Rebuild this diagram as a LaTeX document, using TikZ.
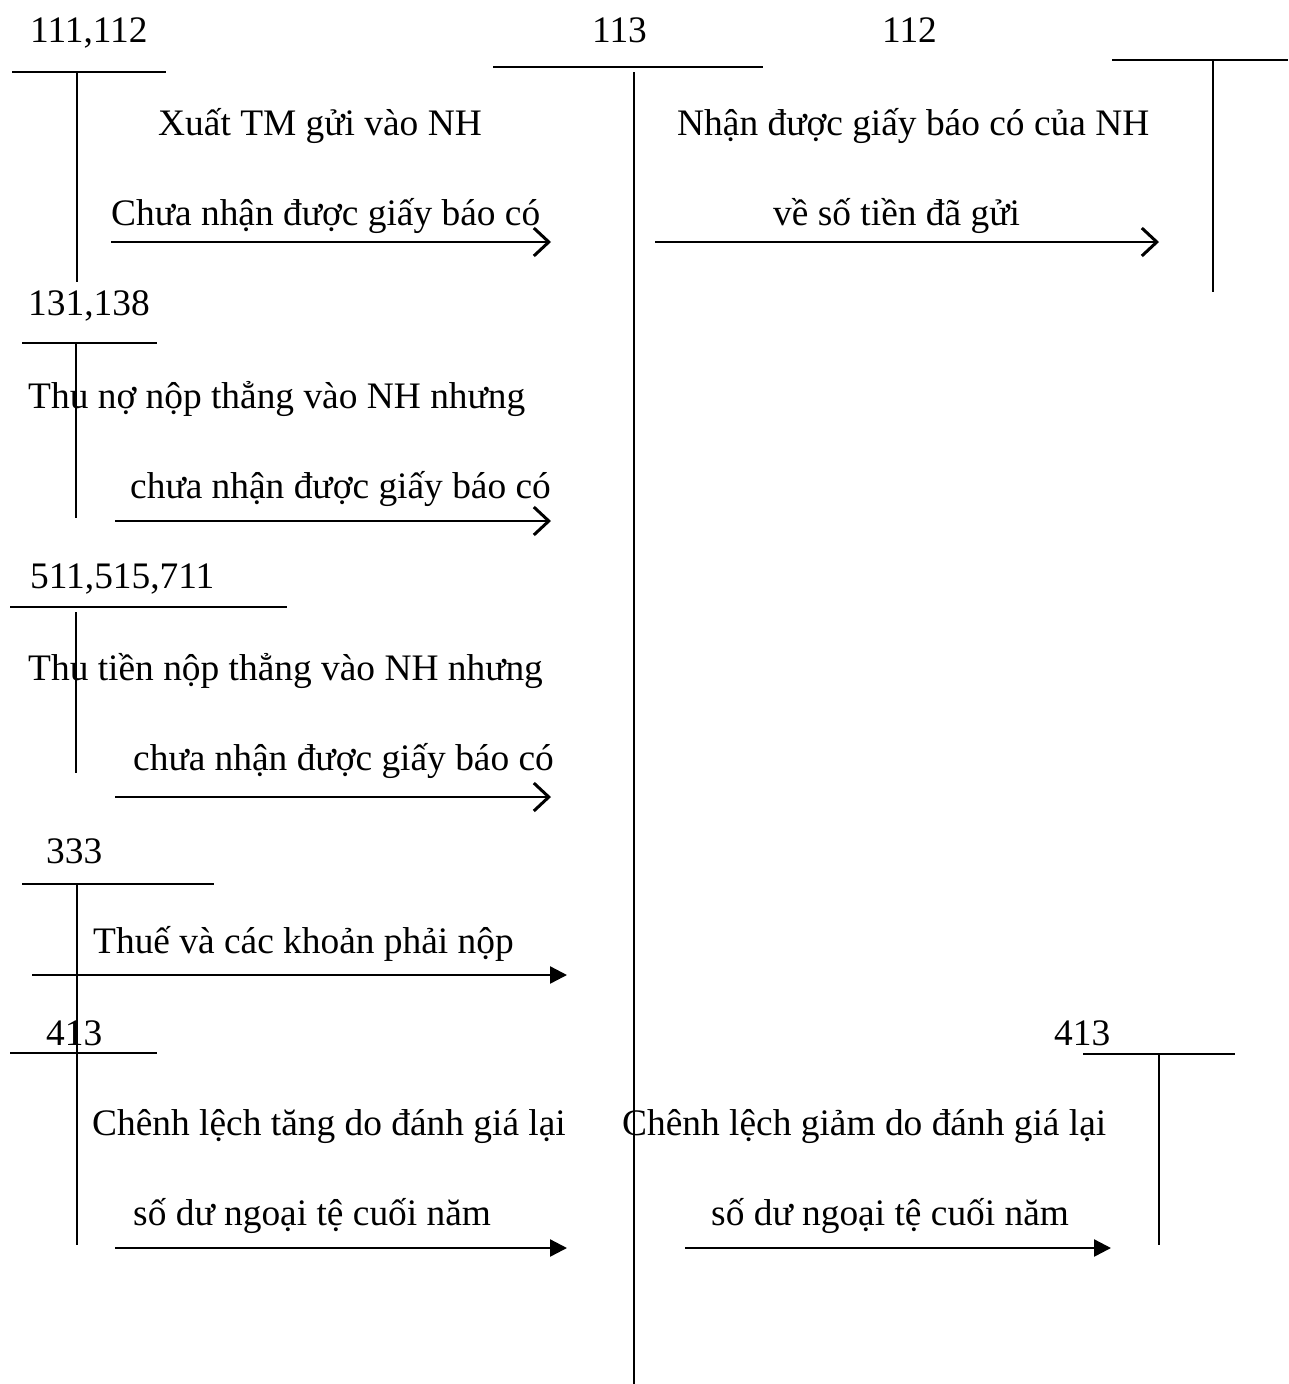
\documentclass[tikz,border=0pt]{standalone}
\usepackage{fontspec}
\setmainfont{Liberation Serif}
\usetikzlibrary{arrows.meta}
\begin{document}
\begin{tikzpicture}[x=1pt,y=-1pt,
  acct/.style={line width=2.2pt},
  lbl/.style={inner sep=0pt,anchor=base west,font=\fontsize{37.4}{44}\selectfont},
  openarr/.style={line width=2.2pt,-{Straight Barb[length=15pt,width=28pt,line width=3pt]}},
  fillarr/.style={line width=2.4pt,-{Triangle[length=17pt,width=17pt]}}]
\useasboundingbox (0,0) rectangle (1288,1384);
% ---- account 111,112
\node[lbl] (t1) at (30,42) {111,112};
\draw[acct] (12,72) -- (166,72);
\draw[acct] (77,72) -- (77,282);
% ---- account 113
\node[lbl] (t113) at (592,42) {113};
\draw[acct] (493,67) -- (763,67);
\draw[acct] (634,72) -- (634,1384);
% ---- account 112
\node[lbl] (t112) at (882,42) {112};
\draw[acct] (1112,60) -- (1288,60);
\draw[acct] (1213,60) -- (1213,292);
% ---- row 1 texts
\node[lbl] (a1) at (158,135) {Xuất TM gửi vào NH};
\node[lbl] (a2) at (111,225) {Chưa nhận được giấy báo có};
\coordinate (a1s) at (111,242);
\coordinate (a1e) at (551,242);
\draw[openarr] (a1s) -- (a1e);
\node[lbl] (b1) at (677,135) {Nhận được giấy báo có của NH};
\node[lbl] (b2) at (773,225) {về số tiền đã gửi};
\coordinate (b1s) at (655,242);
\coordinate (b1e) at (1159,242);
\draw[openarr] (b1s) -- (b1e);
% ---- account 131,138
\node[lbl] (t2) at (28,315) {131,138};
\draw[acct] (22,343) -- (157,343);
\draw[acct] (76,343) -- (76,518);
\node[lbl] (c1) at (28,408) {Thu nợ nộp thẳng vào NH nhưng};
\node[lbl] (c2) at (130,498) {chưa nhận được giấy báo có};
\coordinate (c1s) at (115,521);
\coordinate (c1e) at (551,521);
\draw[openarr] (c1s) -- (c1e);
% ---- account 511,515,711
\node[lbl] (t3) at (30,588) {511,515,711};
\draw[acct] (10,607) -- (287,607);
\draw[acct] (76,612) -- (76,773);
\node[lbl] (d1) at (28,680) {Thu tiền nộp thẳng vào NH nhưng};
\node[lbl] (d2) at (133,770) {chưa nhận được giấy báo có};
\coordinate (d1s) at (115,797);
\coordinate (d1e) at (551,797);
\draw[openarr] (d1s) -- (d1e);
% ---- account 333
\node[lbl] (t4) at (46,863) {333};
\draw[acct] (22,884) -- (214,884);
\draw[acct] (77,884) -- (77,1053);
\node[lbl] (e1) at (93,953) {Thuế và các khoản phải nộp};
\coordinate (e1s) at (32,975);
\coordinate (e1e) at (567,975);
\draw[fillarr] (e1s) -- (e1e);
% ---- account 413 left
\node[lbl] (t5) at (46,1045) {413};
\draw[acct] (10,1053) -- (157,1053);
\draw[acct] (77,1053) -- (77,1245);
\node[lbl] (f1) at (92,1135) {Chênh lệch tăng do đánh giá lại};
\node[lbl] (f2) at (133,1225) {số dư ngoại tệ cuối năm};
\coordinate (f1s) at (115,1248);
\coordinate (f1e) at (567,1248);
\draw[fillarr] (f1s) -- (f1e);
% ---- account 413 right
\node[lbl] (t6) at (1054,1045) {413};
\draw[acct] (1083,1054) -- (1235,1054);
\draw[acct] (1159,1054) -- (1159,1245);
\node[lbl] (g1) at (622,1135) {Chênh lệch giảm do đánh giá lại};
\node[lbl] (g2) at (711,1225) {số dư ngoại tệ cuối năm};
\coordinate (g1s) at (685,1248);
\coordinate (g1e) at (1111,1248);
\draw[fillarr] (g1s) -- (g1e);
\end{tikzpicture}
\end{document}
